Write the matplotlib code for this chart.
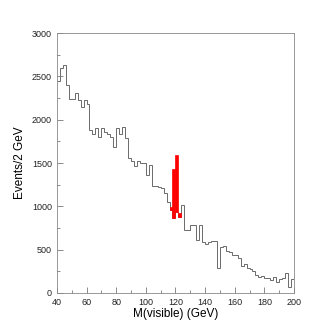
import numpy as np
import matplotlib
matplotlib.use("Agg")
import matplotlib.pyplot as plt
from matplotlib.ticker import MultipleLocator

# background, events per 2 GeV bin from 40 to 200 GeV
bg = [2450, 2600, 2630, 2400, 2240, 2240, 2310, 2230, 2150, 2230,
      2180, 1880, 1840, 1900, 1800, 1900, 1860, 1830, 1800, 1690,
      1900, 1830, 1920, 1790, 1560, 1520, 1465, 1520, 1500, 1500,
      1360, 1480, 1230, 1230, 1220, 1210, 1150, 1050, 960, 860,
      940, 880, 1010, 730, 730, 790, 790, 610, 780, 590,
      570, 590, 600, 600, 290, 530, 540, 480, 470, 440,
      440, 400, 310, 330, 290, 280, 250, 210, 180, 200,
      170, 170, 150, 180, 130, 160, 170, 230, 70, 160]

# signal bins (lower edge) and counts, stacked on the background
sig_x = [116, 118, 120, 122]
sig = [30, 570, 650, 40]

edges = np.arange(40, 202, 2)

plt.rcParams['font.family'] = ['Liberation Sans', 'DejaVu Sans']

fig = plt.figure(figsize=(3.27, 3.27), dpi=100)
ax = fig.add_axes([0.174, 0.104, 0.725, 0.795])

ax.stairs(bg, edges, baseline=None, color='#6a6a6a', lw=0.7)

sig_bottom = [bg[int((x - 40) / 2)] for x in sig_x]
ax.bar(sig_x, sig, bottom=sig_bottom, width=2, align='edge', color='red',
       edgecolor='red', lw=0.5, zorder=3)

ax.set_xlim(40, 200)
ax.set_ylim(0, 3000)
ax.xaxis.set_major_locator(MultipleLocator(20))
ax.xaxis.set_minor_locator(MultipleLocator(10))
ax.yaxis.set_major_locator(MultipleLocator(500))
ax.yaxis.set_minor_locator(MultipleLocator(250))
ax.tick_params(which='both', direction='in', labelsize=6.5, color='#777777',
               width=0.6, labelcolor='#222222')
ax.tick_params(which='major', length=4)
ax.tick_params(which='minor', length=2)
for s in ax.spines.values():
    s.set_color('#888888')
    s.set_linewidth(0.6)

ax.set_xlabel('M(visible) (GeV)', fontsize=8.5, labelpad=1)
ax.set_ylabel('Events/2 GeV', fontsize=8.5, labelpad=4)

fig.savefig('out.png', dpi=100)
